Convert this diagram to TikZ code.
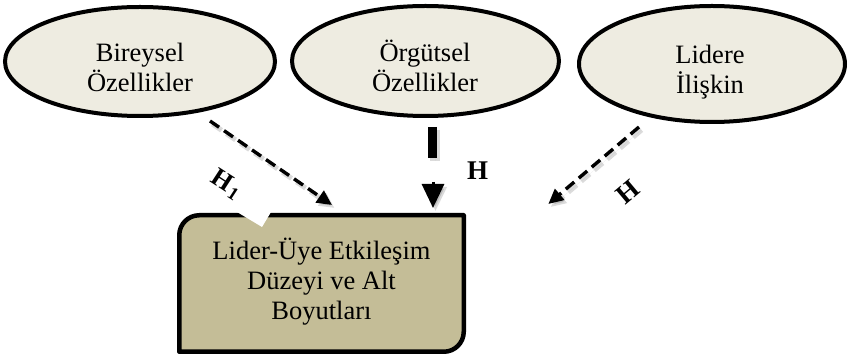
\documentclass[tikz,border=0pt]{standalone}
\usepackage{fontspec}
\setmainfont{Liberation Serif}
\usetikzlibrary{arrows.meta,shapes.geometric}
\definecolor{ellfill}{HTML}{EEECE1}
\definecolor{boxfill}{HTML}{C4BD97}
\begin{document}
\begin{tikzpicture}[x=1pt,y=1pt,
  ellnode/.style={ellipse, draw=black, line width=4pt, fill=ellfill, inner sep=0pt},
  txt/.style={font=\fontsize{26.5}{30}\selectfont, inner sep=0pt, anchor=base},
  lbl/.style={font=\bfseries\fontsize{27}{30}\selectfont, inner sep=0pt},
  dasharrow/.style={line width=3.4pt, dash pattern=on 11pt off 6pt, -{Triangle[length=15pt,width=14pt]}},
  shadowcol/.style={draw=black, fill=black, opacity=0.14}
]
\useasboundingbox (0,0) rectangle (849,356);

% ellipses
\node[ellnode, minimum width=270pt, minimum height=109pt] (e1) at (140,294.5) {};
\node[ellnode, minimum width=267pt, minimum height=110pt] (e2) at (425.5,295) {};
\node[ellnode, minimum width=266pt, minimum height=116pt] (e3) at (712,292) {};

\node[txt] (t1a) at (140,294.7) {Bireysel};
\node[txt] (t1b) at (140,264.3) {Özellikler};
\node[txt] (t2a) at (425,294.7) {Örgütsel};
\node[txt] (t2b) at (425,264.3) {Özellikler};
\node[txt] (t3a) at (710,292) {Lidere};
\node[txt] (t3b) at (710,262.7) {İlişkin};

% box
\draw[line width=4.5pt, line join=round, fill=boxfill]
  (179.25,4.25) -- (179.25,120.75) arc[start angle=180, end angle=90, radius=20]
  -- (463.75,140.75) -- (463.75,24.25) arc[start angle=0, end angle=-90, radius=20] -- cycle;
\coordinate (boxc) at (321.5,72.5);
\fill[white] (233.7,146) -- (272.2,146) -- (262,129) -- cycle;

\node[txt] (b1) at (321.5,96.7) {Lider-Üye Etkileşim};
\node[txt] (b2) at (321.5,66.7) {Düzeyi ve Alt};
\node[txt] (b3) at (321.5,36.7) {Boyutları};

% arrow end points
\coordinate (l1) at (210,235);
\coordinate (l2) at (332,151);
\coordinate (r1) at (639,229);
\coordinate (r2) at (548.3,152);
\coordinate (m1) at (432.5,229);
\coordinate (m2) at (432.5,198);
\coordinate (m3) at (433,174);
\coordinate (m4) at (433,148);

% shadows
\begin{scope}[transform canvas={shift={(2.5pt,-3pt)}}]
  \draw[dasharrow, shadowcol, line width=5pt] (l1) -- (l2);
  \draw[dasharrow, shadowcol, line width=5pt] (r1) -- (r2);
  \draw[shadowcol, line width=10pt] (m1) -- (m2);
  \draw[shadowcol, line width=4pt, -{Triangle[length=24pt,width=22pt]}] (m3) -- (m4);
\end{scope}

% arrows
\draw[dasharrow] (l1) -- (l2);
\draw[dasharrow] (r1) -- (r2);
\draw[line width=8.3pt] (m1) -- (m2);
\draw[line width=3pt, -{Triangle[length=24pt,width=22pt]}] (m3) -- (m4);

% labels
\node[lbl, anchor=base] (hm) at (477.5,176) {H};
\node[lbl, rotate=40] (hr) at (627.5,164.3) {H};
\node[lbl, font=\bfseries\fontsize{26}{30}\selectfont, anchor=base west, rotate=-33] (hl) at (209.8,174.3) {H\kern1.5pt\textsubscript{1}};
\end{tikzpicture}
\end{document}
